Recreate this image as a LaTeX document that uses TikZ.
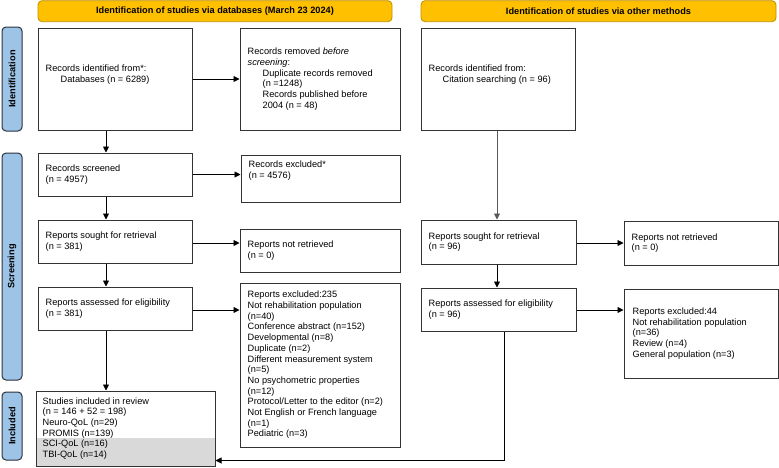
\documentclass[tikz,border=0pt]{standalone}
\usepackage{fontspec}
\setmainfont{Liberation Sans}
\usetikzlibrary{arrows.meta,backgrounds}
\definecolor{hdgold}{HTML}{FFC000}
\definecolor{hdedge}{HTML}{BF9000}
\definecolor{sideblue}{HTML}{9DC3E6}
\definecolor{sideedge}{HTML}{2B3340}
\definecolor{bandgray}{HTML}{D9D9D9}
\begin{document}
\begin{tikzpicture}[x=1pt,y=-1pt,
  txt/.style={font=\fontsize{9.2}{10.7}\selectfont, align=left, inner sep=0pt, anchor=west},
  boxn/.style={draw=black!80, line width=1pt, inner sep=0pt},
  hdbox/.style={draw=hdedge, fill=hdgold, line width=0.8pt, rounded corners=4pt, inner sep=0pt,
     font=\bfseries\fontsize{9.2}{10.7}\selectfont, minimum height=21pt},
  sidebox/.style={draw=sideedge, fill=sideblue, line width=1pt, rounded corners=4pt, inner sep=0pt,
     rotate=90, font=\bfseries\fontsize{9.2}{10.7}\selectfont, minimum height=20pt},
  arr/.style={line width=0.9pt, -{Triangle[length=6pt,width=6pt]}}]
\useasboundingbox (0,0) rectangle (779,467);

% headers
\node[hdbox, minimum width=354pt] (hd1) at (215,11.2) {Identification of studies via databases (March 23 2024)};
\node[hdbox, minimum width=355pt] (hd2) at (598.5,11.2) {Identification of studies via other methods};

% side labels
\node[sidebox, minimum width=104pt] (sid) at (12,79) {Identification};
\node[sidebox, minimum width=227pt] (ssc) at (12,266.5) {Screening};
\node[sidebox, minimum width=68pt] (sin) at (12,426) {Included};

% left column boxes
\node[boxn, minimum width=154pt, minimum height=102pt] (b1) at (115,79) {};
\node[boxn, minimum width=160pt, minimum height=102pt] (rem) at (320,79) {};
\node[boxn, minimum width=154pt, minimum height=43pt] (scr) at (115,174.5) {};
\node[boxn, minimum width=159pt, minimum height=47pt] (exc) at (320.5,178.5) {};
\node[boxn, minimum width=154pt, minimum height=43pt] (sou) at (115,241.5) {};
\node[boxn, minimum width=160pt, minimum height=43pt] (nrt) at (320,250.5) {};
\node[boxn, minimum width=154pt, minimum height=43pt] (ass) at (115,308.5) {};
\node[boxn, minimum width=160pt, minimum height=164pt] (ex2) at (320,365) {};
\node[boxn, minimum width=179pt, minimum height=75pt] (inc) at (125.5,428.5) {};
\begin{scope}[on background layer]
  \fill[bandgray] ([yshift=29pt]inc.south west) rectangle (inc.south east);
\end{scope}

% right column boxes
\node[boxn, minimum width=154pt, minimum height=102pt] (cit) at (498,79) {};
\node[boxn, minimum width=155pt, minimum height=44pt] (rsou) at (498.5,242) {};
\node[boxn, minimum width=154pt, minimum height=44pt] (rnrt) at (701,243) {};
\node[boxn, minimum width=155pt, minimum height=43pt] (rass) at (498.5,309.5) {};
\node[boxn, minimum width=154pt, minimum height=89pt] (rex) at (701,333.5) {};

% texts
\node[txt] (t1) at ([xshift=8pt,yshift=4.5pt]b1.west) {Records identified from*:\\\hspace*{15pt}Databases (n = 6289)};
\node[txt] (t2) at ([xshift=8pt]rem.west) {Records removed \textit{before}\\\textit{screening}:\\\hspace*{15pt}Duplicate records removed\\\hspace*{15pt}(n =1248)\\\hspace*{15pt}Records published before\\\hspace*{15pt}2004 (n = 48)};
\node[txt] (t3) at ([xshift=8pt]scr.west) {Records screened\\(n = 4957)};
\node[txt] (t4) at ([xshift=8pt,yshift=8pt]exc.west) {Records excluded*\\(n = 4576)};
\node[txt] (t5) at ([xshift=8pt]sou.west) {Reports sought for retrieval\\(n = 381)};
\node[txt] (t6) at ([xshift=8pt]nrt.west) {Reports not retrieved\\(n = 0)};
\node[txt] (t7) at ([xshift=8pt]ass.west) {Reports assessed for eligibility\\(n = 381)};
\node[txt] (t8) at ([xshift=8pt]ex2.west) {Reports excluded:235\\Not rehabilitation population\\(n=40)\\Conference abstract (n=152)\\Developmental (n=8)\\Duplicate (n=2)\\Different measurement system\\(n=5)\\No psychometric properties\\(n=12)\\Protocol/Letter to the editor (n=2)\\Not English or French language\\(n=1)\\Pediatric (n=3)};
\node[txt] (t9) at ([xshift=7pt]inc.west) {Studies included in review\\(n = 146 + 52 = 198)\\Neuro-QoL (n=29)\\PROMIS (n=139)\\SCI-QoL (n=16)\\TBI-QoL (n=14)};
\node[txt] (t10) at ([xshift=8pt,yshift=4.5pt]cit.west) {Records identified from:\\\hspace*{14pt}Citation searching (n = 96)};
\node[txt] (t11) at ([xshift=8pt]rsou.west) {Reports sought for retrieval\\(n = 96)};
\node[txt] (t12) at ([xshift=8pt]rnrt.west) {Reports not retrieved\\(n = 0)};
\node[txt] (t13) at ([xshift=8pt]rass.west) {Reports assessed for eligibility\\(n = 96)};
\node[txt] (t14) at ([xshift=9pt]rex.west) {Reports excluded:44\\Not rehabilitation population\\(n=36)\\Review (n=4)\\General population (n=3)};

% connectors left
\draw[arr] (b1.east) -- (rem.west);
\draw[arr] ([xshift=-9pt]b1.south) -- ([xshift=-9pt]scr.north);
\draw[arr] (scr.east) -- (scr.east -| exc.west);
\draw[arr] ([xshift=-9pt]scr.south) -- ([xshift=-9pt]sou.north);
\draw[arr] ([yshift=-1.5pt]sou.east) -- ([yshift=-1.5pt]sou.east -| nrt.west);
\draw[arr] ([xshift=-9pt]sou.south) -- ([xshift=-9pt]ass.north);
\draw[arr] ([yshift=-1.5pt]ass.east) -- ([yshift=-1.5pt]ass.east -| ex2.west);
\draw[arr] ([xshift=-9pt]ass.south) -- ([xshift=-9pt]ass.south |- inc.north);
% connectors right
\draw[arr, draw=black!65] ([xshift=-1pt]cit.south) -- ([xshift=-1.5pt]rsou.north);
\draw[arr] ([yshift=-1pt]rsou.east) -- ([yshift=-1pt]rsou.east -| rnrt.west);
\draw[arr] ([xshift=-1.5pt]rsou.south) -- ([xshift=-1.5pt]rass.north);
\draw[arr] ([yshift=-0.5pt]rass.east) -- ([yshift=-0.5pt]rass.east -| rex.west);
\draw[arr] ([xshift=5.5pt]rass.south) |- ([yshift=6pt]inc.south east);
\end{tikzpicture}
\end{document}
